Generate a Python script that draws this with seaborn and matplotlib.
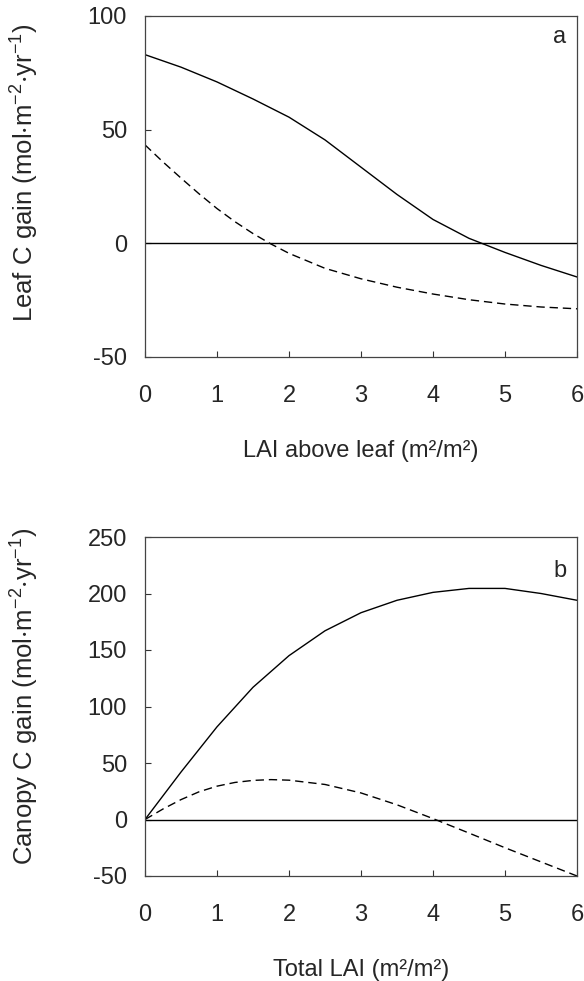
import numpy as np
import pandas as pd
import matplotlib
matplotlib.use("Agg")
import matplotlib.pyplot as plt
import seaborn as sns

# ---- data ----
lai_a = [0, 0.5, 1, 1.5, 2, 2.5, 3, 3.5, 4, 4.5, 5, 5.5, 6]
leaf_solid = [83, 77.5, 71, 63.5, 55.5, 45.5, 33.5, 21.5, 10.5, 2.2, -4, -9.7, -14.8]

lai_a_dash = [0, 0.25, 0.5, 0.75, 1, 1.25, 1.5, 1.75, 2, 2.5, 3, 3.5, 4, 4.5, 5, 5.5, 6]
leaf_dashed = [43.3, 35.8, 28.7, 21.8, 15.3, 9.5, 4.3, -0.3, -4.4, -11, -15.6, -19.3, -22.3,
               -24.8, -26.7, -28, -28.8]

lai_b = [0, 0.5, 1, 1.5, 2, 2.5, 3, 3.5, 4, 4.5, 5, 5.5, 6]
canopy_solid = [0, 42, 82, 117, 145, 167, 183, 194, 201, 204.5, 204.5, 200, 194]

lai_b_dash = [0, 0.25, 0.5, 0.75, 1, 1.25, 1.5, 1.75, 2, 2.5, 3, 3.5, 4, 4.5, 5, 5.5, 6]
canopy_dashed = [0, 9.3, 17.6, 24.5, 29.5, 32.8, 34.6, 35.3, 34.8, 31, 23.5, 13, 0.8, -12,
                 -25, -37.5, -50]

xticks = [0, 1, 2, 3, 4, 5, 6]
yticks_a = [-50, 0, 50, 100]
yticks_b = [-50, 0, 50, 100, 150, 200, 250]

sns.set_theme(style="white")
plt.rcParams['font.family'] = ['Liberation Sans', 'DejaVu Sans']
plt.rcParams['mathtext.fontset'] = 'custom'
plt.rcParams['mathtext.rm'] = 'Liberation Sans'
plt.rcParams['mathtext.default'] = 'regular'

fig = plt.figure(figsize=(5.84, 9.81), dpi=100)
ax_a = fig.add_axes([145/584, 1-357/981, 432/584, 341/981])
ax_b = fig.add_axes([145/584, 1-876/981, 432/584, 339/981])

df_as = pd.DataFrame({"x": lai_a, "y": leaf_solid})
df_ad = pd.DataFrame({"x": lai_a_dash, "y": leaf_dashed})
df_bs = pd.DataFrame({"x": lai_b, "y": canopy_solid})
df_bd = pd.DataFrame({"x": lai_b_dash, "y": canopy_dashed})

fs = 17
for ax, ds, dd, yt, ylab, xlab, panel, py, ly in [
    (ax_a, df_as, df_ad, yticks_a, r'Leaf C gain (mol$\cdot$m$^{-2}$$\cdot$yr$^{-1}$)',
     'LAI above leaf (m²/m²)', 'a', 0.939, 0.54),
    (ax_b, df_bs, df_bd, yticks_b, r'Canopy C gain (mol$\cdot$m$^{-2}$$\cdot$yr$^{-1}$)',
     'Total LAI (m²/m²)', 'b', 0.90, 0.53),
]:
    ax.axhline(0, color='black', lw=1.0, zorder=1)
    sns.lineplot(data=ds, x="x", y="y", ax=ax, color='black', lw=1.0, estimator=None, sort=False)
    sns.lineplot(data=dd, x="x", y="y", ax=ax, color='black', lw=1.0, estimator=None, sort=False)
    ax.lines[-1].set_linestyle((0, (6, 3.5)))
    ax.set_xlim(0, 6)
    ax.set_ylim(yt[0], yt[-1])
    ax.set_xticks(xticks)
    ax.set_yticks(yt)
    ax.set_xticklabels([str(v) for v in xticks])
    ax.set_yticklabels([str(v) for v in yt])
    ax.tick_params(axis='both', direction='in', length=4, width=0.8, color='#333333',
                   labelsize=fs, bottom=True, left=True)
    ax.tick_params(axis='x', pad=20)
    ax.tick_params(axis='y', pad=13)
    for s in ax.spines.values():
        s.set_color('#444444')
        s.set_linewidth(0.9)
    ax.set_xlabel(xlab, fontsize=fs, labelpad=24)
    ax.set_ylabel(ylab, fontsize=18.5)
    ax.yaxis.set_label_coords(-0.24, ly)
    ax.text(0.96, py, panel, transform=ax.transAxes, fontsize=fs, ha='center', va='center')

fig.savefig("out.png", dpi=100)
